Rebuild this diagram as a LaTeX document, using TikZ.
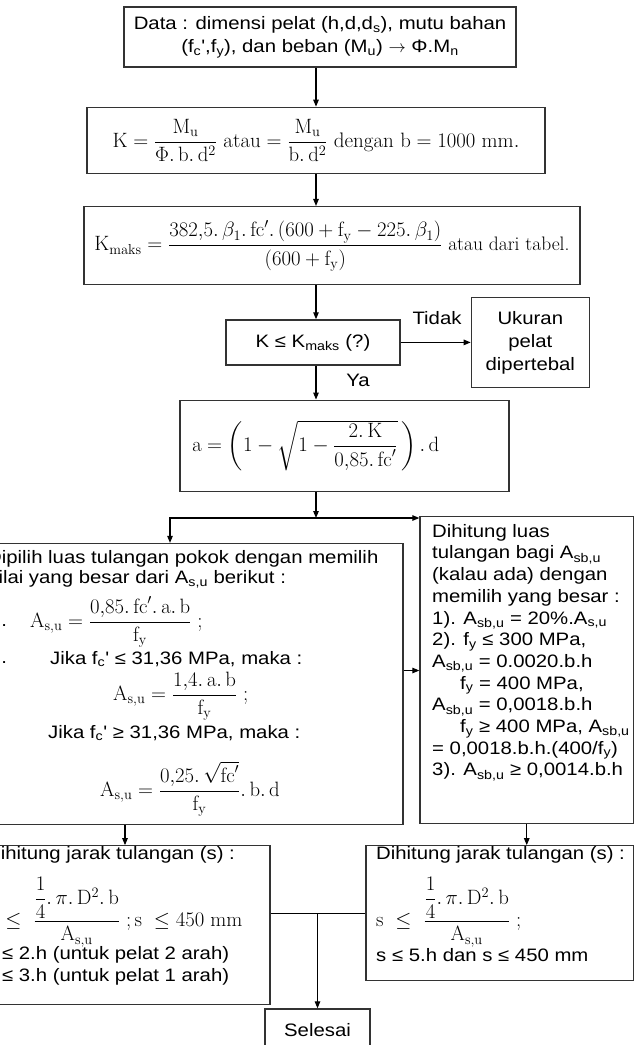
\documentclass[tikz,border=0pt]{standalone}
\usepackage{amsmath,amssymb}
\usepackage[no-math]{fontspec}
\newfontfamily\arialfont[FakeStretch=1.13]{Liberation Sans}
\usepackage{tikz}
\usetikzlibrary{arrows.meta, positioning, calc}
\newcommand{\mdot}{\mathpunct{.}}

\begin{document}
\begin{tikzpicture}[
    x=1pt, y=-1pt,
    box/.style={rectangle, draw=black!80, line width=1.3pt, inner sep=0pt, align=center, font=\fontsize{18}{23}\selectfont\arialfont},
    words/.style={inner sep=0pt, anchor=west, font=\fontsize{18}{21.7}\selectfont\arialfont},
    formula/.style={inner sep=0pt, anchor=west, font=\fontsize{20}{24}\selectfont},
    arrowstyle/.style={-{Triangle[length=7pt, width=5.5pt]}, line width=1.1pt},
    linkstyle/.style={line width=1.1pt}
]
\useasboundingbox (0,0) rectangle (635,1045);
\clip (0,0) rectangle (635,1045);

\coordinate (axis) at (316,0);

% Input and checks
\node[box, minimum width=392pt, minimum height=60pt] (data) at (320,37)
    {Data : dimensi pelat (h,d,d\textsubscript{s}), mutu bahan\\
     (f\textsubscript{c}',f\textsubscript{y}), dan beban (M\textsubscript{u}) $\rightarrow$ Φ.M\textsubscript{n}};
\node[box, below=39pt of data, xshift=-4pt, minimum width=458pt, minimum height=66pt, font=\fontsize{21}{24}\selectfont] (kval)
    {$\mathrm{K} = \dfrac{\mathrm{M_u}}{\Phi\mdot\mathrm{b}\mdot\mathrm{d}^2}\ \textrm{atau} = \dfrac{\mathrm{M_u}}{\mathrm{b}\mdot\mathrm{d}^2}\ \textrm{dengan}\ \mathrm{b} = 1000\ \mathrm{mm.}$};
\node[box, below=32pt of kval, xshift=16pt, minimum width=496pt, minimum height=78pt, font=\fontsize{19.5}{23}\selectfont] (kmaks)
    {$\mathrm{K_{maks}} = \dfrac{382{,}5\mdot\beta_1\mdot\mathrm{fc}'\mdot\left(600+\mathrm{f_y}-225\mdot\beta_1\right)}{\left(600+\mathrm{f_y}\right)}\ \textrm{atau dari tabel.}$};
\node[box, below=34pt of kmaks, xshift=-19pt, minimum width=174pt, minimum height=45pt] (dec)
    {K ≤ K\textsubscript{maks} (?)};
\node[box, right=70pt of dec, minimum width=118pt, minimum height=90pt] (ukuran)
    {Ukuran\\pelat\\dipertebal};
\node[box, below=34pt of dec, xshift=31.5pt, minimum width=329pt, minimum height=91pt, inner xsep=12pt, text width=305pt, align=left, font=\fontsize{20.5}{24}\selectfont] (avalue)
    {$\mathrm{a} = \left(1-\sqrt{1-\dfrac{2\mdot\mathrm{K}}{0{,}85\mdot\mathrm{fc}'}}\,\right)\mdot\mathrm{d}$};

% Reinforcement boxes
\node[box, below=51pt of avalue, xshift=-153pt, minimum width=423pt, minimum height=281pt] (pilih) {};
\node[box, below=24pt of avalue, xshift=182.25pt, minimum width=213.5pt, minimum height=307pt] (luas) {};
\node[box, below=20pt of pilih, xshift=-66.5pt, minimum width=290pt, minimum height=159pt] (jarakA) {};
\node[box, below=21pt of luas, xshift=-27pt, minimum width=267.5pt, minimum height=135pt] (jarakB) {};
\node[box, minimum width=105pt, minimum height=42pt] (selesai) at (317.5,1030) {Selesai};

% Texts in the boxes
\node[words] (p1) at (-13,559) {Dipilih luas tulangan pokok dengan memilih};
\node[words] (p2) at (-13,579) {nilai yang besar dari A\textsubscript{s,u} berikut :};
\node[words] (p3) at (-17,622) {1).};
\node[formula] (p4) at (30,622) {$\mathrm{A_{s,u}} = \dfrac{0{,}85\mdot\mathrm{fc}'\mdot\mathrm{a}\mdot\mathrm{b}}{\mathrm{f_y}}\ ;$};
\node[words] (p5) at (-17,659) {2).};
\node[words] (p6) at (50,659) {Jika f\textsubscript{c}' ≤ 31,36 MPa, maka :};
\node[formula] (p7) at (113,696) {$\mathrm{A_{s,u}} = \dfrac{1{,}4\mdot\mathrm{a}\mdot\mathrm{b}}{\mathrm{f_y}}\ ;$};
\node[words] (p8) at (48,733) {Jika f\textsubscript{c}' ≥ 31,36 MPa, maka :};
\node[formula] (p9) at (100,789) {$\mathrm{A_{s,u}} = \dfrac{0{,}25\mdot\sqrt{\mathrm{fc}'}}{\mathrm{f_y}}\mdot\mathrm{b}\mdot\mathrm{d}$};

\node[words, anchor=north west, align=left] (l1) at (432,524)
    {Dihitung luas\\
     tulangan bagi A\textsubscript{sb,u}\\
     (kalau ada) dengan\\
     memilih yang besar :\\
     1). A\textsubscript{sb,u} = 20\%.A\textsubscript{s,u}\\
     2). f\textsubscript{y} ≤ 300 MPa,\\
     A\textsubscript{sb,u} = 0.0020.b.h\\
     \hspace*{28pt}f\textsubscript{y} = 400 MPa,\\
     A\textsubscript{sb,u} = 0,0018.b.h\\
     \hspace*{28pt}f\textsubscript{y} ≥ 400 MPa, A\textsubscript{sb,u}\\
     = 0,0018.b.h.(400/f\textsubscript{y})\\
     3). A\textsubscript{sb,u} ≥ 0,0014.b.h};

\node[words] (s1) at (-14,855) {Dihitung jarak tulangan (s) :};
\node[formula] (s2) at (-14,912) {$\mathrm{s}\ \le\ \dfrac{\dfrac{1}{4}\mdot\pi\mdot\mathrm{D}^2\mdot\mathrm{b}}{\mathrm{A_{s,u}}}\ ;\mathrm{s}\ \le 450\ \mathrm{mm}$};
\node[words] (s3) at (-14,955) {s ≤ 2.h (untuk pelat 2 arah)};
\node[words] (s4) at (-14,977) {s ≤ 3.h (untuk pelat 1 arah)};

\node[words] (t1) at (376,855) {Dihitung jarak tulangan (s) :};
\node[formula] (t2) at (376,912) {$\mathrm{s}\ \le\ \dfrac{\dfrac{1}{4}\mdot\pi\mdot\mathrm{D}^2\mdot\mathrm{b}}{\mathrm{A_{s,u}}}\ ;$};
\node[words] (t3) at (376,955) {s ≤ 5.h dan s ≤ 450 mm};

% Labels
\node[words, anchor=center] (tidak) at (437,318) {Tidak};
\node[words, anchor=center] (ya) at (358,380) {Ya};

% Connectors
\coordinate (split) at (316,518);
\draw[arrowstyle] (data.south -| axis) -- (kval.north -| axis);
\draw[arrowstyle] (kval.south -| axis) -- (kmaks.north -| axis);
\draw[arrowstyle] (kmaks.south -| axis) -- (dec.north -| axis);
\draw[arrowstyle] (dec.east) -- (ukuran.west);
\draw[arrowstyle] (dec.south -| axis) -- (avalue.north -| axis);
\draw[arrowstyle] (avalue.south -| axis) -- (split);
\draw[arrowstyle] (split) -| ([xshift=-21.5pt]pilih.north);
\draw[arrowstyle] (split) -- (split -| luas.west);
\draw[arrowstyle] ([yshift=13.5pt]pilih.east) -- ([yshift=13.5pt]pilih.east -| luas.west);
\draw[arrowstyle] (jarakA.north |- pilih.south) -- (jarakA.north);
\draw[arrowstyle] (luas.south) -- (luas.south |- jarakB.north);
\draw[linkstyle] (jarakA.east |- jarakB.west) -- (jarakB.west);
\draw[arrowstyle] (selesai.north |- jarakB.west) -- (selesai.north);
\end{tikzpicture}
\end{document}
